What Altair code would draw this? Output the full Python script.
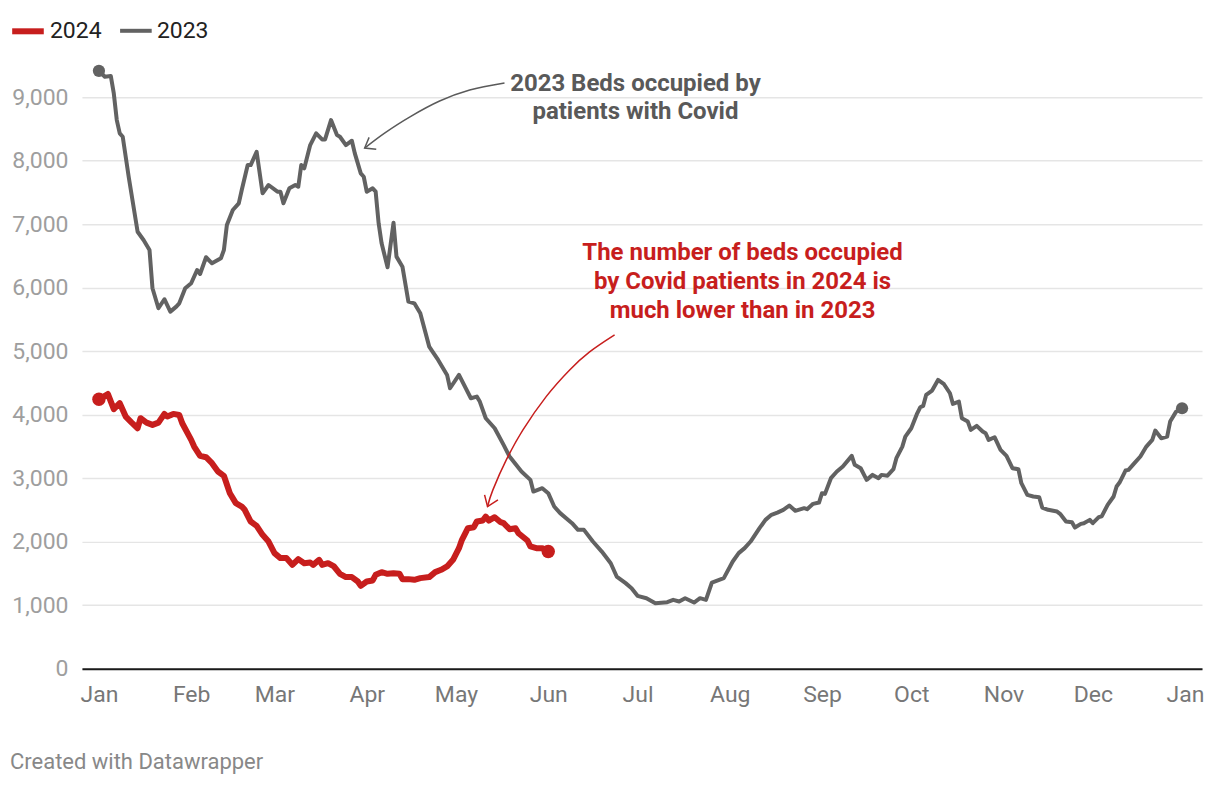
import altair as alt
import pandas as pd

# ---- data (day offset from 1 Jan, beds occupied) ----
days_2023 = [0, 2, 4, 5, 6, 7, 8, 10, 13, 15, 17, 18, 20, 22, 24, 26, 27, 29, 31, 33,
             34, 36, 38, 41, 42, 43, 45, 47, 48, 50, 51, 53, 55, 57, 60, 61, 62, 64, 66, 67,
             68, 69, 71, 73, 75, 76, 78, 80, 81, 83, 85, 86, 88, 89, 90, 92, 93, 94, 95, 97,
             99, 100, 102, 104, 106, 108, 111, 112, 114, 117, 118, 121, 125, 127, 128, 130, 133, 136, 138, 142,
             145, 146, 149, 151, 153, 155, 159, 161, 163, 166, 169, 172, 174, 177, 179, 181, 184, 187, 191, 193,
             195, 197, 200, 202, 204, 206, 210, 213, 215, 217, 219, 222, 224, 226, 228, 230, 232, 234, 237, 238,
             240, 242, 243, 244, 246, 248, 250, 253, 254, 256, 258, 260, 262, 263, 265, 267, 268, 270, 271, 273,
             275, 276, 277, 278, 280, 282, 284, 286, 287, 289, 290, 292, 293, 295, 297, 298, 299, 301, 303, 305,
             307, 309, 310, 312, 314, 316, 317, 319, 322, 323, 325, 327, 328, 330, 331, 333, 334, 336, 337, 339,
             341, 342, 343, 345, 346, 348, 350, 352, 354, 355, 357, 359, 360, 362, 364]
beds_2023 = [9413, 9319, 9330, 9057, 8637, 8428, 8375, 7745, 6880, 6750, 6592, 5990, 5675, 5817, 5622, 5701, 5753, 5990, 6069, 6278,
             6215, 6478, 6383, 6462, 6592, 6986, 7222, 7327, 7537, 7929, 7929, 8139, 7484, 7615, 7510, 7510, 7327, 7563, 7615, 7589,
             7929, 7877, 8244, 8428, 8333, 8333, 8637, 8401, 8375, 8244, 8312, 8113, 7798, 7745, 7510, 7563, 7510, 7012, 6697, 6320,
             7022, 6488, 6330, 5779, 5753, 5596, 5071, 5000, 4862, 4626, 4416, 4626, 4258, 4284, 4206, 3944, 3786, 3524, 3341, 3105,
             2974, 2790, 2843, 2764, 2554, 2450, 2292, 2187, 2187, 2003, 1845, 1662, 1452, 1348, 1269, 1148, 1111, 1032, 1048, 1085,
             1059, 1111, 1043, 1111, 1085, 1358, 1427, 1689, 1820, 1899, 2003, 2213, 2344, 2423, 2459, 2502, 2570, 2486, 2528, 2512,
             2596, 2617, 2764, 2753, 3000, 3105, 3184, 3351, 3210, 3157, 2974, 3052, 3000, 3052, 3040, 3142, 3315, 3498, 3655, 3786,
             4022, 4116, 4138, 4311, 4379, 4547, 4479, 4337, 4169, 4206, 3944, 3891, 3760, 3823, 3734, 3708, 3603, 3645, 3446, 3351,
             3157, 3142, 2921, 2738, 2712, 2701, 2538, 2502, 2475, 2439, 2318, 2307, 2223, 2281, 2290, 2344, 2292, 2386, 2400, 2580,
             2712, 2869, 2931, 3120, 3131, 3236, 3341, 3498, 3603, 3750, 3629, 3655, 3891, 4048, 4101]

days_2024 = [0, 3, 5, 7, 9, 11, 13, 14, 16, 18, 20, 22, 23, 25, 27, 28, 31, 32, 34, 36,
             38, 40, 42, 44, 46, 48, 49, 51, 53, 55, 57, 59, 61, 63, 65, 67, 69, 71, 72, 74,
             75, 77, 79, 81, 83, 85, 87, 88, 90, 92, 93, 95, 97, 99, 101, 102, 104, 106, 108, 111,
             113, 115, 117, 119, 121, 122, 124, 126, 127, 129, 130, 131, 133, 135, 136, 138, 140, 141, 144, 145,
             147, 149, 151]
beds_2024 = [4243, 4326, 4086, 4180, 3970, 3875, 3786, 3944, 3875, 3839, 3875, 4012, 3970, 4012, 3996, 3865, 3603, 3498, 3351, 3330,
             3236, 3105, 3037, 2764, 2607, 2554, 2502, 2318, 2250, 2108, 2003, 1820, 1742, 1742, 1636, 1726, 1662, 1673, 1636, 1715,
             1636, 1662, 1610, 1495, 1443, 1443, 1374, 1306, 1374, 1390, 1479, 1521, 1495, 1505, 1495, 1411, 1411, 1400, 1427, 1443,
             1521, 1558, 1610, 1715, 1899, 2030, 2213, 2229, 2318, 2333, 2396, 2333, 2386, 2307, 2292, 2197, 2213, 2134, 2019, 1925,
             1899, 1899, 1845]

assert len(days_2023) == len(beds_2023)
assert len(days_2024) == len(beds_2024)

series_names = ["2024", "2023"]
series_colors = ["#c71e1d", "#626262"]
y_ticks = [0, 1000, 2000, 3000, 4000, 5000, 6000, 7000, 8000, 9000]

# annotation anchors (day offset, value)
gray_note_lines = ["2023 Beds occupied by", "patients with Covid"]
gray_note_day = 180.3
gray_note_vals = [9204, 8763]
red_note_lines = ["The number of beds occupied", "by Covid patients in 2024 is", "much lower than in 2023"]
red_note_day = 216.3
red_note_vals = [6545, 6089, 5633]

gray_arrow_days = [136.3, 124.6, 114.5, 104.4, 96.0, 89.3]
gray_arrow_vals = [9220, 9110, 8937, 8685, 8433, 8197]
gray_head_days = [93.2, 89.3, 90.8]
gray_head_vals = [8177, 8197, 8365]
red_arrow_days = [173.3, 164.9, 158.2, 150.3, 142.5, 136.9, 132.4, 130.6]
red_arrow_vals = [5255, 4987, 4704, 4284, 3760, 3288, 2816, 2554]
red_head_days = [129.6, 130.6, 134.1]
red_head_vals = [2738, 2554, 2659]

base = pd.Timestamp("2023-01-01")


def to_dates(days):
    return [base + pd.to_timedelta(d, unit="D") for d in days]


df23 = pd.DataFrame({"date": to_dates(days_2023), "beds": beds_2023, "series": "2023"})
df24 = pd.DataFrame({"date": to_dates(days_2024), "beds": beds_2024, "series": "2024"})
lines = pd.concat([df24, df23], ignore_index=True)
ends = pd.concat([df23.iloc[[0, -1]], df24.iloc[[0, -1]]], ignore_index=True)

FONT = "Roboto"

x_scale = alt.Scale(domain=[alt.DateTime(year=2022, month=12, date=26, hours=7),
                            alt.DateTime(year=2024, month=1, date=6, hours=17)])
x_vals = [alt.DateTime(year=2023, month=m, date=1) for m in range(1, 13)] + [alt.DateTime(year=2024, month=1, date=1)]
x_enc = alt.X("date:T", scale=x_scale,
              axis=alt.Axis(values=x_vals, format="%b", title=None, grid=False, ticks=False,
                            domain=True, domainColor="#1a1a1a", domainWidth=2,
                            labelFont=FONT, labelFontSize=23, labelColor="#777777",
                            labelPadding=15, labelFlush=False, labelOverlap=False))
y_enc = alt.Y("beds:Q", scale=alt.Scale(domain=[0, 9500], nice=False, zero=True),
              axis=alt.Axis(values=y_ticks, labelExpr="replace(format(datum.value, ',.0f'), '', '')",
                            title=None, domain=False, ticks=False,
                            gridColor="#e5e5e5", gridWidth=1.5,
                            labelFont=FONT, labelFontSize=23, labelColor="#9e9e9e", labelPadding=14))

color_scale = alt.Scale(domain=series_names, range=series_colors)

line_layer = alt.Chart(lines).mark_line(strokeJoin="round", strokeCap="round").encode(
    x=x_enc, y=y_enc,
    color=alt.Color("series:N", scale=color_scale,
                    legend=alt.Legend(title=None, orient="none", legendX=-73, legendY=-53,
                                      direction="horizontal", symbolType="stroke",
                                      symbolSize=1000, symbolStrokeWidth=5,
                                      labelFont=FONT, labelFontSize=23, labelColor="#222222",
                                      labelOffset=3, columnPadding=10)),
    strokeWidth=alt.StrokeWidth("series:N", scale=alt.Scale(domain=series_names, range=[6, 4]), legend=None),
    detail="series:N",
)

end_layer = alt.Chart(ends).mark_circle(opacity=1).encode(
    x=x_enc, y=y_enc,
    color=alt.Color("series:N", scale=color_scale, legend=None),
    size=alt.Size("series:N", scale=alt.Scale(domain=series_names, range=[180, 150]), legend=None),
)

arrows = pd.concat([
    pd.DataFrame({"date": to_dates(gray_arrow_days), "beds": gray_arrow_vals, "g": "ga", "i": range(len(gray_arrow_days))}),
    pd.DataFrame({"date": to_dates(red_arrow_days), "beds": red_arrow_vals, "g": "ra", "i": range(len(red_arrow_days))}),
], ignore_index=True)
heads = pd.concat([
    pd.DataFrame({"date": to_dates(gray_head_days), "beds": gray_head_vals, "g": "gh", "i": range(3)}),
    pd.DataFrame({"date": to_dates(red_head_days), "beds": red_head_vals, "g": "rh", "i": range(3)}),
], ignore_index=True)
arrow_color = alt.Color("g:N", scale=alt.Scale(domain=["ga", "gh", "ra", "rh"],
                                                range=["#5a5a5a", "#5a5a5a", "#c71e1d", "#c71e1d"]), legend=None)

arrow_layer = alt.Chart(arrows).mark_line(interpolate="cardinal", strokeWidth=1.5).encode(
    x=x_enc, y=y_enc, color=arrow_color, detail="g:N", order="i:Q")
head_layer = alt.Chart(heads).mark_line(strokeWidth=1.5, strokeJoin="miter").encode(
    x=x_enc, y=y_enc, color=arrow_color, detail="g:N", order="i:Q")

gray_txt = pd.DataFrame({"date": to_dates([gray_note_day] * len(gray_note_lines)),
                         "beds": gray_note_vals, "t": gray_note_lines})
red_txt = pd.DataFrame({"date": to_dates([red_note_day] * len(red_note_lines)),
                        "beds": red_note_vals, "t": red_note_lines})

gray_text_layer = alt.Chart(gray_txt).mark_text(font=FONT, fontSize=24, fontWeight="bold",
                                                color="#595959", align="center", baseline="middle").encode(
    x=x_enc, y=y_enc, text="t:N")
red_text_layer = alt.Chart(red_txt).mark_text(font=FONT, fontSize=24, fontWeight="bold",
                                              color="#c71e1d", align="center", baseline="middle").encode(
    x=x_enc, y=y_enc, text="t:N")

credit = alt.Chart(pd.DataFrame({"t": ["Created with Datawrapper"]})).mark_text(
    font=FONT, fontSize=22, color="#888888", align="left", baseline="middle").encode(
    x=alt.value(-72), y=alt.value(697), text="t:N")

chart = alt.layer(
    line_layer, end_layer, arrow_layer, head_layer, gray_text_layer, red_text_layer, credit
).resolve_scale(color="independent", size="independent", strokeWidth="independent").properties(
    width=1121, height=604,
    autosize=alt.AutoSizeParams(type="none"),
    padding={"left": 74, "top": 57, "right": 10, "bottom": 108},
).configure(background="white", view=alt.ViewConfig(stroke=None, strokeWidth=0))

chart.save("out.html", embed_options={"renderer": "svg", "actions": False})
